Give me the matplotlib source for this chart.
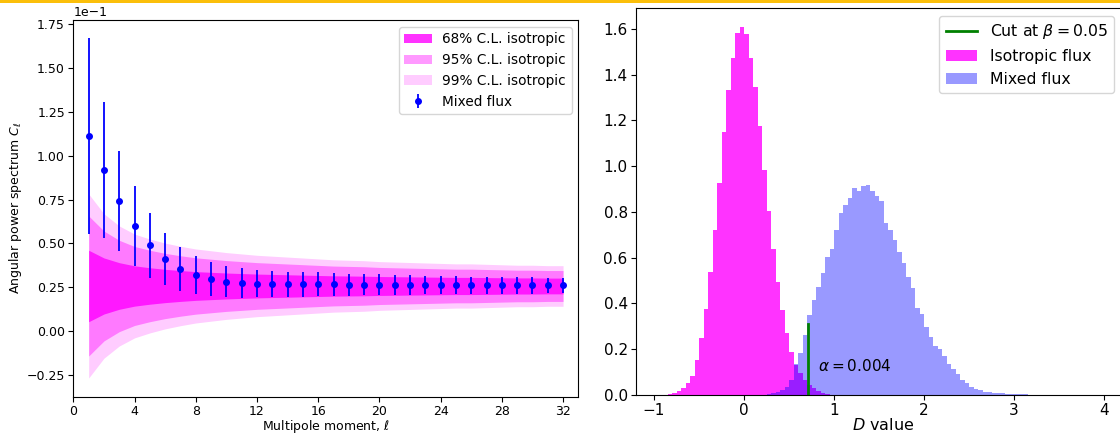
import matplotlib
matplotlib.use("Agg")
import matplotlib.pyplot as plt
import numpy as np

# angular power spectrum: multipoles and the mixed-flux measurement
ell = list(range(1, 33))
cl_mixed = [0.1112, 0.0918, 0.0740, 0.0600, 0.0490, 0.0410, 0.0354, 0.0319,
            0.0297, 0.0282, 0.0274, 0.0269, 0.0268, 0.0267, 0.0266, 0.0266,
            0.0266, 0.0265, 0.0265, 0.0264, 0.0263, 0.0263, 0.0262, 0.0262,
            0.0262, 0.0261, 0.0261, 0.0261, 0.0260, 0.0260, 0.0260, 0.0260]
cl_err = [0.0560, 0.0390, 0.0285, 0.0230, 0.0185, 0.0150, 0.0127, 0.0108,
          0.0097, 0.0089, 0.0083, 0.0077, 0.0074, 0.0072, 0.0070, 0.0068,
          0.0065, 0.0063, 0.0061, 0.0059, 0.0057, 0.0055, 0.0053, 0.0052,
          0.0051, 0.0050, 0.0049, 0.0048, 0.0047, 0.0046, 0.0045, 0.0044]

# isotropic expectation: mean and per-multipole spread
iso_mean = 0.0257
iso_sigma = [0.0204, 0.0160, 0.0133, 0.0115, 0.0104, 0.0095, 0.0088, 0.0082,
             0.0078, 0.0074, 0.0071, 0.0068, 0.0066, 0.0064, 0.0062, 0.0060,
             0.0058, 0.0057, 0.0056, 0.0054, 0.0053, 0.0052, 0.0051, 0.0050,
             0.0049, 0.0049, 0.0048, 0.0047, 0.0046, 0.0046, 0.0045, 0.0045]
cl_levels = ["68% C.L. isotropic", "95% C.L. isotropic", "99% C.L. isotropic"]
cl_z = [1.0, 1.96, 2.576]
cl_alpha = [0.8, 0.4, 0.2]

# distributions of the test statistic D (normalised histograms, bin width 0.05)
bin_width = 0.05
iso_start = -0.85
iso_heights = [0.003, 0.007, 0.017, 0.029, 0.051, 0.085, 0.153, 0.248, 0.377, 0.539,
               0.721, 0.928, 1.148, 1.333, 1.475, 1.580, 1.610, 1.578, 1.472, 1.348,
               1.176, 0.985, 0.803, 0.638, 0.495, 0.370, 0.271, 0.189, 0.132, 0.095,
               0.066, 0.044, 0.029, 0.017, 0.010, 0.005, 0.002]
mix_start = 0.25
mix_heights = [0.004, 0.007, 0.012, 0.022, 0.036, 0.066, 0.135, 0.184, 0.264, 0.350,
               0.415, 0.471, 0.532, 0.605, 0.637, 0.721, 0.794, 0.831, 0.862, 0.904,
               0.893, 0.912, 0.916, 0.893, 0.870, 0.849, 0.750, 0.721, 0.678, 0.627,
               0.576, 0.517, 0.466, 0.379, 0.354, 0.299, 0.255, 0.215, 0.200, 0.170,
               0.137, 0.115, 0.090, 0.066, 0.054, 0.036, 0.025, 0.020, 0.015, 0.012,
               0.010, 0.008, 0.007, 0.006, 0.005, 0.004, 0.003, 0.003, 0.002, 0.002,
               0.001]
d_cut = 0.711
cut_height = 0.31
alpha_err = 0.004

fig = plt.figure(figsize=(11.2, 4.33), dpi=100)

# thin accent bar across the top
fig.add_artist(plt.Rectangle((0, 1 - 2.5 / 433), 1, 2.5 / 433, transform=fig.transFigure,
                             color="#fbbf0a", lw=0))

# ---- left: power spectrum ----
ax1 = fig.add_axes([0.0655, 0.0838, 0.4509, 0.8700])
sig = np.array(iso_sigma)
for name, z, a in zip(cl_levels, cl_z, cl_alpha):
    ax1.fill_between(ell, iso_mean - z * sig, iso_mean + z * sig,
                     color="magenta", alpha=a, lw=0, label=name)
ax1.errorbar(ell, cl_mixed, yerr=cl_err, fmt="o", color="b", markersize=4,
             elinewidth=1.3, label="Mixed flux")
ax1.set_xlim(0, 33)
ax1.set_ylim(-0.0375, 0.1775)
ax1.set_xticks(range(0, 33, 4))
ax1.set_yticks(np.arange(-0.025, 0.176, 0.025))
ax1.ticklabel_format(axis="y", style="sci", scilimits=(0, 0))
ax1.tick_params(labelsize=9, pad=2.5)
ax1.yaxis.get_offset_text().set_fontsize(9)
ax1.set_xlabel(r"Multipole moment, $\ell$", fontsize=9, labelpad=0)
ax1.set_ylabel(r"Angular power spectrum $C_\ell$", fontsize=9, labelpad=2)
ax1.legend(loc="upper right", fontsize=9.8)

# ---- right: D statistic ----
ax2 = fig.add_axes([0.5679, 0.0878, 0.4420, 0.8930])
iso_edges = iso_start + bin_width * np.arange(len(iso_heights) + 1)
mix_edges = mix_start + bin_width * np.arange(len(mix_heights) + 1)
ax2.plot([d_cut, d_cut], [0, cut_height], color="g", lw=2, zorder=3,
         label=r"Cut at $\beta = 0.05$")
ax2.hist(iso_edges[:-1], bins=iso_edges, weights=iso_heights, histtype="stepfilled",
         color="magenta", alpha=0.8, label="Isotropic flux")
ax2.hist(mix_edges[:-1], bins=mix_edges, weights=mix_heights, histtype="stepfilled",
         color="b", alpha=0.4, label="Mixed flux")
ax2.text(d_cut + 0.11, 0.125, r"$\alpha = %.3f$" % alpha_err, fontsize=11, va="center")
ax2.set_xlim(-1.2, 4.3)
ax2.set_ylim(0, 1.69)
ax2.set_xticks(range(-1, 5))
ax2.set_yticks(np.arange(0, 1.61, 0.2))
ax2.tick_params(labelsize=11, pad=2.5)
ax2.set_xlabel(r"$D$ value", fontsize=11.5, labelpad=-1)
ax2.legend(loc="upper right", fontsize=11.3, bbox_to_anchor=(0.981, 1.0))

fig.savefig("out.png", dpi=100)
